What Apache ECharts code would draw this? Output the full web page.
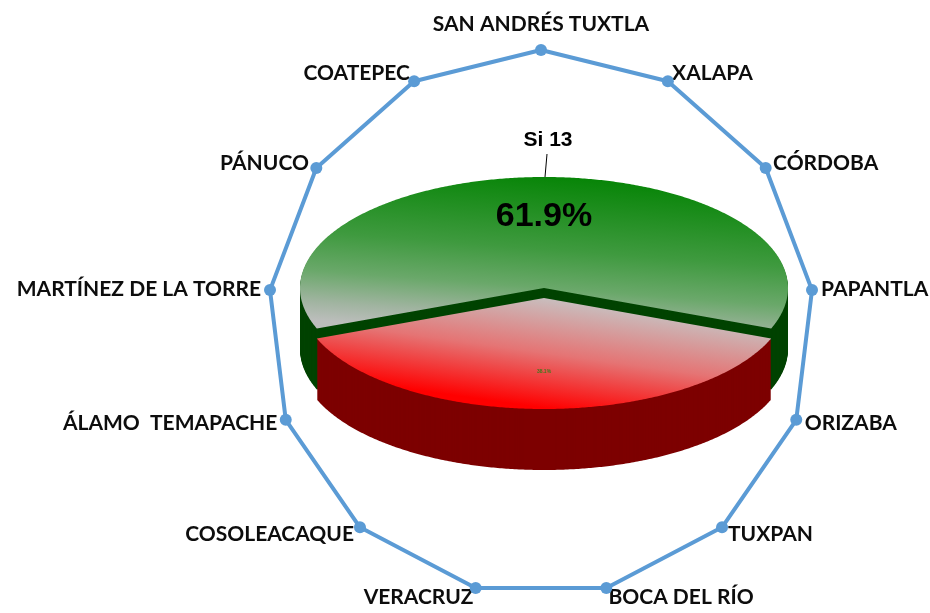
<!DOCTYPE html>
<html>
<head>
<meta charset="utf-8">
<script src="https://cdn.jsdelivr.net/npm/echarts@6/dist/echarts.min.js"></script>
<style>
html,body{margin:0;padding:0;background:#fff;}
#chart{width:930px;height:613px;}
</style>
</head>
<body>
<div id="chart"></div>
<script>
// ---- data ----
const radarCategories = [
  'SAN ANDRÉS TUXTLA', 'XALAPA', 'CÓRDOBA', 'PAPANTLA', 'ORIZABA', 'TUXPAN',
  'BOCA DEL RÍO', 'VERACRUZ', 'COSOLEACAQUE', 'ÁLAMO  TEMAPACHE',
  'MARTÍNEZ DE LA TORRE', 'PÁNUCO', 'COATEPEC'
];
const radarValues = [1, 1, 1, 1, 1, 1, 1, 1, 1, 1, 1, 1, 1];
const pieNames = ['Si', 'No'];
const pieValues = [13, 8];

// ---- layout / style ----
const CX = 544, CY = 288, RX = 244, RY = 111, DEPTH = 61;
const explodeFrac = [0, 0.09];
const sideColors = ['#004300', '#7d0000'];
const topFills = [
  {type: 'linear', x: 548, y: 177, x2: 536, y2: 337, global: true,
   colorStops: [{offset: 0, color: '#088508'}, {offset: 0.45, color: '#3f9a3f'},
                {offset: 0.69, color: '#6aa86a'}, {offset: 0.88, color: '#a0b4a0'}, {offset: 1, color: '#bcbebc'}]},
  {type: 'linear', x: 560, y: 300, x2: 545, y2: 408, global: true,
   colorStops: [{offset: 0, color: '#c8bebe'}, {offset: 0.5, color: '#e57474'}, {offset: 1, color: '#ff0000'}]}
];

const total = pieValues.reduce((a, b) => a + b, 0);
const lastDeg = pieValues[pieValues.length - 1] / total * 360;
const startDeg = lastDeg / 2 - 180; // last slice centred at 6 o'clock
const cum = [];
pieValues.reduce((acc, v, i) => { cum[i] = acc; return acc + v; }, 0);

function pt(aDeg, r, ox, oy) {
  const a = aDeg * Math.PI / 180;
  return [CX + ox + RX * r * Math.sin(a), CY + oy - RY * r * Math.cos(a)];
}

function renderSlice(params) {
  const i = params.dataIndex;
  const a0 = startDeg + cum[i] / total * 360;
  const a1 = a0 + pieValues[i] / total * 360;
  const mid = (a0 + a1) / 2;
  const midR = mid * Math.PI / 180;
  const ox = RX * explodeFrac[i] * Math.sin(midR);
  const oy = -RY * explodeFrac[i] * Math.cos(midR);
  const pts = [[CX + ox, CY + oy]];
  for (let a = a0; a < a1; a += 0.5) pts.push(pt(a, 1, ox, oy));
  pts.push(pt(a1, 1, ox, oy));
  const children = [];
  for (let t = DEPTH; t >= 1; t -= 1) {
    children.push({type: 'polygon', shape: {points: pts.map(p => [p[0], p[1] + t])},
      style: {fill: sideColors[i]}});
  }
  children.push({type: 'polygon', shape: {points: pts}, style: {fill: topFills[i]}});
  const pct = (pieValues[i] / total * 100).toFixed(1) + '%';
  if (i === 0) {
    const lp = pt(mid, 0.64, ox, oy);
    children.push({type: 'text', x: lp[0], y: lp[1], style: {
      text: pct, fill: '#000', fontSize: 34, fontWeight: 'bold',
      fontFamily: 'Liberation Sans, Arial, sans-serif', align: 'center', verticalAlign: 'middle'}});
    const e = pt(mid, 1, ox, oy);
    children.push({type: 'line', shape: {x1: e[0] + 1, y1: e[1], x2: e[0] + 3, y2: e[1] - 23},
      style: {stroke: '#000', lineWidth: 1}});
    children.push({type: 'text', x: e[0] + 4, y: e[1] - 37, style: {
      text: pieNames[i] + ' ' + pieValues[i], fill: '#000', fontSize: 21, fontWeight: 'bold',
      fontFamily: 'Liberation Sans, Arial, sans-serif', align: 'center', verticalAlign: 'middle'}});
  } else {
    const lp = pt(mid, 0.66, ox, oy);
    children.push({type: 'text', x: lp[0], y: lp[1], style: {
      text: pct, fill: '#3d7a1c', fontSize: 5, fontWeight: 'bold',
      fontFamily: 'Liberation Sans, Arial, sans-serif', align: 'center', verticalAlign: 'middle'}});
  }
  return {type: 'group', children};
}

// ECharts places radar indicators counter-clockwise; keep the first at top and reverse the rest
const indicatorOrder = [0].concat(radarCategories.map((_, i) => i).slice(1).reverse());
const topName = radarCategories[0];

const chart = echarts.init(document.getElementById('chart'));
chart.setOption({
  backgroundColor: '#ffffff',
  animation: false,
  radar: {
    center: [541, 323],
    radius: 273,
    startAngle: 90,
    nameGap: 9,
    indicator: indicatorOrder.map(i => ({name: radarCategories[i], min: 0, max: 1})),
    axisName: {
      color: '#0d0d0d', fontSize: 21, fontWeight: 'bold', fontFamily: 'Lato',
      formatter: (name) => name === topName ? '{top|' + name + '}' : name,
      rich: {top: {color: '#0d0d0d', fontSize: 21, fontWeight: 'bold', fontFamily: 'Lato', padding: [0, 0, 6, 0]}}
    },
    axisLine: {show: false},
    splitLine: {show: false},
    splitArea: {show: false},
    axisTick: {show: false},
    axisLabel: {show: false}
  },
  series: [
    {
      type: 'radar',
      z: 1,
      symbol: 'circle',
      symbolSize: 12,
      lineStyle: {color: '#5b9bd5', width: 4},
      itemStyle: {color: '#5b9bd5'},
      data: [{value: indicatorOrder.map(i => radarValues[i])}]
    },
    {
      type: 'custom',
      coordinateSystem: 'none',
      z: 3,
      renderItem: renderSlice,
      data: pieValues.map((v, i) => ({name: pieNames[i], value: v}))
    }
  ]
});
</script>
</body>
</html>
